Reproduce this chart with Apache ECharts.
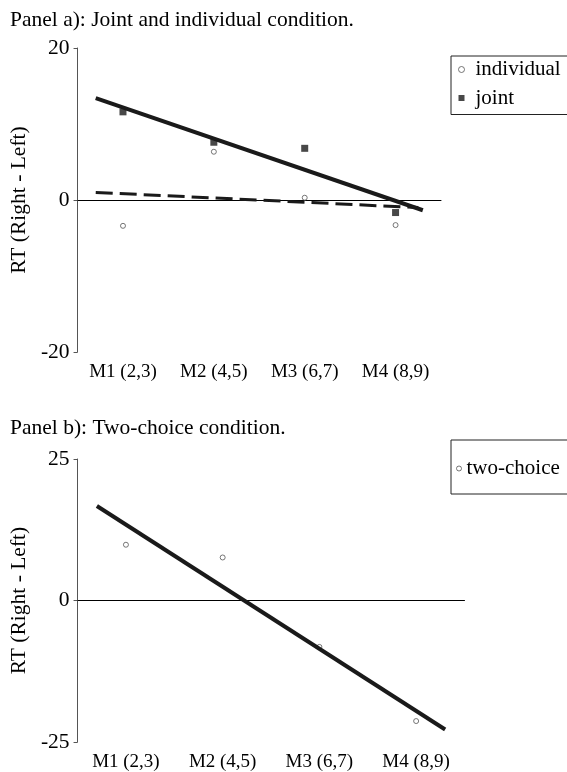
<!DOCTYPE html>
<html>
<head>
<meta charset="utf-8">
<script src="https://cdn.jsdelivr.net/npm/echarts@6/dist/echarts.min.js"></script>
<style>
html,body{margin:0;padding:0;background:#fff;}
#c{width:567px;height:772px;}
</style>
</head>
<body>
<div id="c"></div>
<script>
// ---- data ----
var categories = ['M1 (2,3)', 'M2 (4,5)', 'M3 (6,7)', 'M4 (8,9)'];
var individualValues = [-3.4, 6.35, 0.3, -3.3];
var jointValues = [11.6, 7.6, 6.8, -1.65];
var twoChoiceValues = [9.85, 7.6, -8.2, -21.3];
// fitted lines: [category position, value]
var jointFit = [[-0.3, 13.4], [3.3, -1.35]];
var individualFit = [[-0.3, 1.0], [3.25, -1.0]];
var twoChoiceFit = [[-0.3, 16.7], [3.3, -22.8]];
var panelATicks = {min: -20, max: 20, interval: 20};
var panelBTicks = {min: -25, max: 25, interval: 25};

var FONT = 'Liberation Serif';
var txt = {fontFamily: FONT, color: '#000'};

function yAxis(gridIndex, t) {
  return {
    type: 'value', gridIndex: gridIndex,
    min: t.min, max: t.max, interval: t.interval,
    name: 'RT (Right - Left)', nameLocation: 'middle', nameGap: 41,
    nameTextStyle: Object.assign({fontSize: 21.5}, txt),
    axisLine: {show: true, onZero: false, lineStyle: {color: '#555', width: 1}},
    axisTick: {show: true, length: 4, lineStyle: {color: '#555'}},
    axisLabel: Object.assign({fontSize: 21.5, margin: 8}, txt),
    splitLine: {show: false}
  };
}
function catAxis(gridIndex) {
  return {
    type: 'category', gridIndex: gridIndex, data: categories, position: 'bottom',
    boundaryGap: true,
    axisLine: {show: false, onZero: false}, axisTick: {show: false},
    axisLabel: Object.assign({fontSize: 19, margin: 11}, txt),
    splitLine: {show: false}
  };
}
function valXAxis(gridIndex) {
  return {
    type: 'value', gridIndex: gridIndex, min: -0.5, max: 3.5, position: 'top',
    axisLine: {show: true, onZero: true, lineStyle: {color: '#000', width: 1}},
    axisTick: {show: false}, axisLabel: {show: false}, splitLine: {show: false}
  };
}
var hollow = {color: '#fff', borderColor: '#555', borderWidth: 1};

var option = {
  animation: false,
  backgroundColor: '#fff',
  title: [
    {text: 'Panel a): Joint and individual condition.', left: 10, top: 9, padding: 0,
     textStyle: Object.assign({fontSize: 21.5, fontWeight: 'normal'}, txt)},
    {text: 'Panel b): Two-choice condition.', left: 10, top: 417, padding: 0,
     textStyle: Object.assign({fontSize: 21.5, fontWeight: 'normal'}, txt)}
  ],
  legend: [
    {orient: 'vertical', left: 451, top: 56, padding: [3, 30, 6, 7],
     borderColor: '#222', borderWidth: 1, itemGap: 7.5, itemWidth: 6, itemHeight: 6,
     textStyle: Object.assign({fontSize: 21, padding: [0, 0, 0, 6]}, txt),
     data: [{name: 'individual', icon: 'circle', itemStyle: hollow},
            {name: 'joint', icon: 'rect', itemStyle: {color: '#1a1a1a', borderWidth: 0}}]},
    {orient: 'vertical', left: 451, top: 440, padding: [18, 30, 15, 5],
     borderColor: '#222', borderWidth: 1, itemWidth: 5, itemHeight: 5,
     textStyle: Object.assign({fontSize: 21}, txt),
     data: [{name: 'two-choice', icon: 'circle', itemStyle: hollow}]}
  ],
  grid: [
    {left: 74.5, right: 126, top: 48, bottom: 420},
    {left: 74.5, right: 102.5, top: 459, bottom: 27}
  ],
  xAxis: [catAxis(0), valXAxis(0), catAxis(1), valXAxis(1)],
  yAxis: [yAxis(0, panelATicks), yAxis(1, panelBTicks)],
  series: [
    {name: 'individual', type: 'scatter', xAxisIndex: 0, yAxisIndex: 0,
     data: individualValues, symbol: 'circle', symbolSize: 5, itemStyle: hollow, z: 3},
    {name: 'joint', type: 'scatter', xAxisIndex: 0, yAxisIndex: 0,
     data: jointValues, symbol: 'rect', symbolSize: 7, itemStyle: {color: '#1a1a1a'}, z: 3},
    {name: 'joint fit', type: 'line', xAxisIndex: 1, yAxisIndex: 0, data: jointFit,
     showSymbol: false, symbol: 'none', lineStyle: {color: '#1a1a1a', width: 4}, z: 4},
    {name: 'individual fit', type: 'line', xAxisIndex: 1, yAxisIndex: 0, data: individualFit,
     showSymbol: false, symbol: 'none', lineStyle: {color: '#1a1a1a', width: 3, type: [17, 7]}, z: 4},
    {name: 'two-choice', type: 'scatter', xAxisIndex: 2, yAxisIndex: 1,
     data: twoChoiceValues, symbol: 'circle', symbolSize: 5, itemStyle: hollow, z: 3},
    {name: 'two-choice fit', type: 'line', xAxisIndex: 3, yAxisIndex: 1, data: twoChoiceFit,
     showSymbol: false, symbol: 'none', lineStyle: {color: '#1a1a1a', width: 4}, z: 4}
  ]
};
var chart = echarts.init(document.getElementById('c'), null, {renderer: 'canvas'});
chart.setOption(option);
</script>
</body>
</html>
